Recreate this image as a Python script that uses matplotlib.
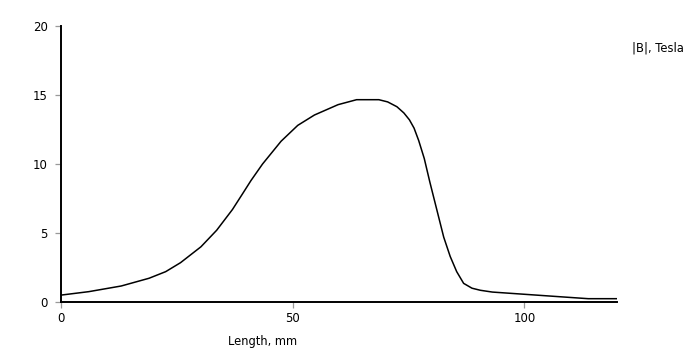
import numpy as np
import matplotlib
matplotlib.use("Agg")
import matplotlib.pyplot as plt

# field magnitude along the length
length_mm = [0, 6, 13, 19, 22.6, 25.8, 30.2, 33.6, 37, 39.2, 41, 43.5, 47.5,
             51.1, 54.7, 59.8, 63.8, 68.6, 70.5, 72.5, 74.0, 75.2, 76.2, 77.2,
             78.4, 79.6, 81.1, 82.6, 84.0, 85.4, 86.9, 88.7, 90.5, 93.1, 100,
             107.3, 113.8, 120]
b_tesla = [0.5, 0.75, 1.16, 1.72, 2.2, 2.85, 4.0, 5.2, 6.7, 7.85, 8.8, 10.0,
           11.65, 12.8, 13.55, 14.3, 14.66, 14.66, 14.5, 14.15, 13.7, 13.2,
           12.6, 11.7, 10.4, 8.7, 6.7, 4.7, 3.3, 2.2, 1.35, 1.0, 0.85, 0.72,
           0.56, 0.39, 0.24, 0.24]
xticks = [0, 50, 100]
yticks = [0, 5, 10, 15, 20]

fig = plt.figure(figsize=(7.0, 3.59), dpi=100)
ax = fig.add_axes([61/700, 57/359, 556/700, 276/359])

ax.plot(length_mm, b_tesla, color="black", linewidth=1.1)

ax.set_xlim(0, 120)
ax.set_ylim(0, 20)
ax.set_xticks(xticks)
ax.set_yticks(yticks)

for side in ("top", "right"):
    ax.spines[side].set_visible(False)
for side in ("left", "bottom"):
    ax.spines[side].set_linewidth(1.4)
    ax.spines[side].set_color("black")

ax.tick_params(axis="both", direction="out", length=4.5, width=0.9,
               color="#999999", labelsize=8.5, labelcolor="black")
ax.tick_params(axis="y", pad=5)
ax.tick_params(axis="x", pad=3)

fig.text(263/700, 1 - 342/359, "Length, mm", fontsize=8.3,
         ha="center", va="center")
fig.text(632/700, 1 - 48/359, "|B|, Tesla", fontsize=8.3,
         ha="left", va="center")

fig.savefig("out.png", dpi=100)
